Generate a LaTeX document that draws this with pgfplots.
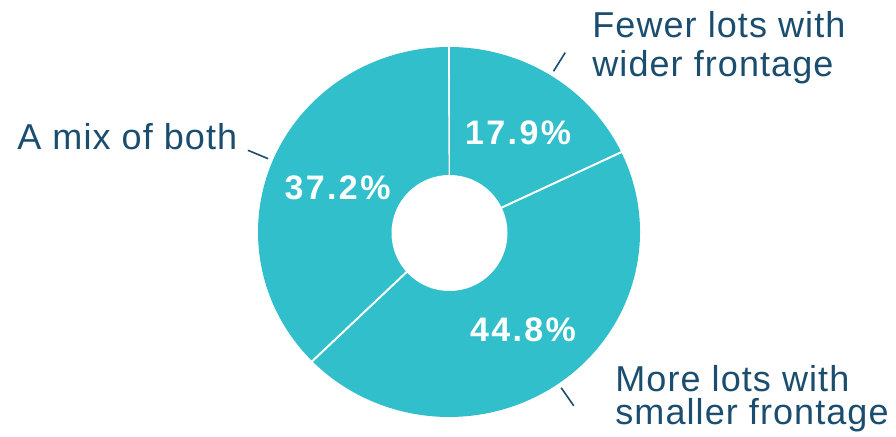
\documentclass[border=0pt]{standalone}
\usepackage{pgfplots}
\pgfplotsset{compat=1.18}
\usepackage{pgfplotstable}
\usepackage{fontspec}
\setmainfont{Liberation Sans}
\newfontfamily\labfont[LetterSpace=3]{Liberation Sans}
\newfontfamily\pctfont[LetterSpace=7]{Liberation Sans}
\definecolor{slicecol}{HTML}{31BFCB}
\definecolor{labcol}{HTML}{1B4D6E}

\pgfplotstableread{
share
17.9
44.8
37.2
}\shares

\begin{document}
\begin{tikzpicture}[
  pct/.style={text=white,font=\pctfont\bfseries\fontsize{17}{19}\selectfont,inner sep=0pt},
  lab/.style={text=labcol,font=\labfont\fontsize{18}{21}\selectfont,inner sep=0pt,anchor=base west}]
\begin{axis}[x=0.5pt,y=0.5pt,xmin=0,xmax=896,ymin=0,ymax=437,
  hide axis,clip=false,enlargelimits=false]
\path (axis cs:0,0) (axis cs:896,437);
\pgfplotstablegetrowsof{\shares}
\pgfmathtruncatemacro\N{\pgfplotsretval-1}
\def\cum{0}
\pgfplotsforeachungrouped \i in {0,...,\N}{%
  \pgfplotstablegetelem{\i}{share}\of\shares
  \let\v\pgfplotsretval
  \pgfmathsetmacro\a{90-3.6*\cum}%
  \pgfmathsetmacro\b{90-3.6*(\cum+\v)}%
  \pgfmathsetmacro\m{(\a+\b)/2}%
  \pgfmathsetmacro\cum{\cum+\v}%
  \edef\temp{\noexpand\fill[slicecol] (axis cs:449,205) -- ++(\a:95.5pt and 92.5pt) arc[start angle=\a,end angle=\b,x radius=95.5pt,y radius=92.5pt] -- cycle;
    \noexpand\draw[white,line width=1pt] (axis cs:449,205) -- ++(\a:96pt and 93pt);
    \noexpand\draw[labcol,line width=0.8pt] (axis cs:449,205) ++(\m:98pt and 95pt) -- ++(\m:11pt and 11pt);
    \noexpand\path (axis cs:452,204) ++(\m:62pt and 59pt) node[pct] {\v\noexpand\%};}%
  \temp
}
\fill[white] (axis cs:449.5,204) circle[x radius=29pt,y radius=29pt];
\node[lab] at (axis cs:592,399) {Fewer lots with};
\node[lab] at (axis cs:592,360) {wider frontage};
\node[lab] at (axis cs:17,287) {A mix of both};
\node[lab] at (axis cs:615,45) {More lots with};
\node[lab] at (axis cs:615,12) {smaller frontage};
\end{axis}
\end{tikzpicture}
\end{document}
